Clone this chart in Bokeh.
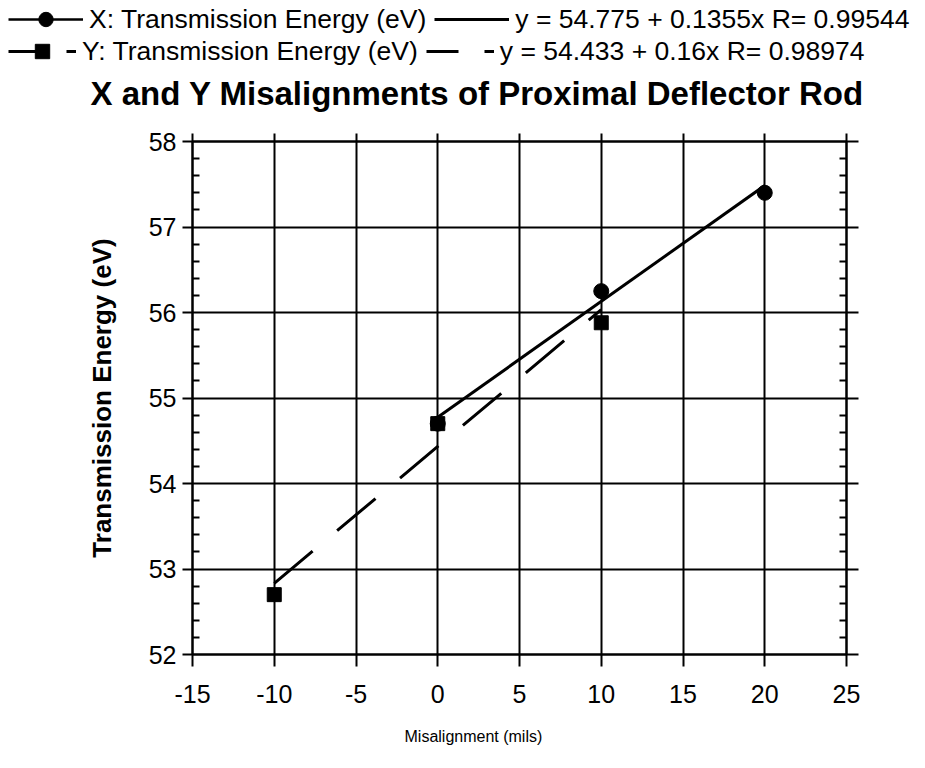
from bokeh.plotting import figure
from bokeh.models import (Legend, LegendItem, Title, LinearAxis, FixedTicker, Range1d, Label)
from bokeh.embed import file_html
from bokeh.resources import INLINE

# ---------------- data ----------------
x_mis = [0, 10, 20]                    # X misalignment (mils)
x_energy = [54.7, 56.25, 57.4]         # X: Transmission Energy (eV)
y_mis = [-10, 0, 10]                   # Y misalignment (mils)
y_energy = [52.7, 54.7, 55.88]         # Y: Transmission Energy (eV)
x_fit_coef = [54.775, 0.1355]          # intercept, slope
y_fit_coef = [54.433, 0.16]
x_fit_span = [0, 20]
y_fit_span = [-10, 10]
x_ticks = [-15, -10, -5, 0, 5, 10, 15, 20, 25]
y_ticks = [52, 53, 54, 55, 56, 57, 58]
x_series_label = "X: Transmission Energy (eV)"
y_series_label = "Y: Transmission Energy (eV)"
x_fit_label = "y = 54.775 + 0.1355x R= 0.99544"
y_fit_label = "y = 54.433 + 0.16x R= 0.98974"
title_text = "X and Y Misalignments of Proximal Deflector Rod"
x_axis_title = "Misalignment (mils)"
y_axis_title = "Transmission Energy (eV)"

FONT = "Liberation Sans"
W = 925
HEAD_H = 118
MAIN_H = 646
y_minor = [t + k * 0.2 for t in y_ticks[:-1] for k in range(1, 5)]
x_fit_y = [x_fit_coef[0] + x_fit_coef[1] * v for v in x_fit_span]
y_fit_y = [y_fit_coef[0] + y_fit_coef[1] * v for v in y_fit_span]

# ---------------- header: legend + title ----------------
# the header's ranges do not contain the data, so its renderers only feed the legend
h = figure(width=W, height=HEAD_H, x_range=Range1d(0, 1), y_range=Range1d(0, 1),
           x_axis_type=None, y_axis_type=None, output_backend="svg",
           toolbar_location=None, min_border=0)
h.outline_line_color = None
h.background_fill_color = "white"
h.border_fill_color = "white"

lg_x_line = h.line(x_mis, x_energy, line_color="black", line_width=2.5)
lg_x_pt = h.scatter(x_mis, x_energy, marker="circle", size=15, color="black")
lg_x_fit = h.line(x_fit_span, x_fit_y, line_color="black", line_width=3)
lg_y_line = h.line(y_mis, y_energy, line_color="black", line_width=3, line_dash="32 26")
lg_y_pt = h.scatter(y_mis, y_energy, marker="square", size=14, color="black")
lg_y_fit = h.line(y_fit_span, y_fit_y, line_color="black", line_width=3, line_dash="32 26")


def make_legend(items, gw, loc):
    return Legend(items=items, orientation="horizontal", location=loc,
                  glyph_width=gw, glyph_height=36, label_standoff=6, spacing=8,
                  padding=0, margin=0, border_line_color=None, background_fill_alpha=0,
                  label_text_font=FONT, label_text_font_size="26.5px",
                  label_text_color="black")


leg1 = make_legend([LegendItem(label=x_series_label, renderers=[lg_x_line, lg_x_pt]),
                    LegendItem(label=x_fit_label, renderers=[lg_x_fit])], 75, (8, 81))
leg2 = make_legend([LegendItem(label=y_series_label, renderers=[lg_y_line, lg_y_pt]),
                    LegendItem(label=y_fit_label, renderers=[lg_y_fit])], 68, (8, 49))
h.add_layout(leg1)
h.add_layout(leg2)

h.add_layout(Label(x=90, y=25, x_units="screen", y_units="screen", text=title_text,
                   text_font=FONT, text_font_size="33px", text_font_style="bold",
                   text_color="black", text_baseline="alphabetic", text_align="left"))

# ---------------- main plot ----------------
p = figure(width=W, height=MAIN_H, x_range=Range1d(-15, 25), y_range=Range1d(52, 58),
           output_backend="svg", toolbar_location=None, title=None,
           min_border_left=192, min_border_right=W - 846, min_border_top=23,
           min_border_bottom=MAIN_H - 545)
p.outline_line_color = "black"
p.outline_line_width = 2
p.background_fill_color = "white"
p.border_fill_color = "white"

p.xgrid.ticker = FixedTicker(ticks=x_ticks)
p.ygrid.ticker = FixedTicker(ticks=y_ticks)
for g in (p.xgrid, p.ygrid):
    g.grid_line_color = "black"
    g.grid_line_width = 2
    g.grid_line_alpha = 1.0


def style_axis(ax, tick_out, minor_in, labels, standoff=6):
    ax.axis_line_color = "black"
    ax.axis_line_width = 2
    ax.major_tick_line_color = "black"
    ax.major_tick_line_width = 2
    ax.major_tick_out = tick_out
    ax.major_tick_in = 0
    ax.minor_tick_line_width = 2
    ax.minor_tick_in = minor_in
    ax.minor_tick_out = 0
    ax.minor_tick_line_color = "black" if minor_in else None
    ax.major_label_text_font = FONT
    if labels:
        ax.major_label_text_font_size = "25px"
        ax.major_label_text_color = "black"
        ax.major_label_standoff = standoff
    else:
        ax.major_label_text_font_size = "1px"
        ax.major_label_text_color = None
        ax.major_label_standoff = 0


xb = p.xaxis[0]
xb.ticker = FixedTicker(ticks=x_ticks)
style_axis(xb, 12, 0, True, standoff=18)
xb.major_label_overrides = {t: str(t) for t in x_ticks}

yl = p.yaxis[0]
yl.ticker = FixedTicker(ticks=y_ticks, minor_ticks=y_minor)
style_axis(yl, 10, 7, True, standoff=6)
yl.major_label_overrides = {t: str(t) for t in y_ticks}
yl.axis_label = y_axis_title
yl.axis_label_text_font = FONT
yl.axis_label_text_font_style = "bold"
yl.axis_label_text_font_size = "26px"
yl.axis_label_text_color = "black"
yl.axis_label_standoff = 29

xt = LinearAxis(ticker=FixedTicker(ticks=x_ticks))
style_axis(xt, 8, 0, False)
p.add_layout(xt, "above")

yr = LinearAxis(ticker=FixedTicker(ticks=y_ticks, minor_ticks=y_minor))
style_axis(yr, 12, 7, False)
p.add_layout(yr, "right")

# fit lines from the legend equations
p.line(x_fit_span, x_fit_y, line_color="black", line_width=3)
p.line(y_fit_span, y_fit_y, line_color="black", line_width=3, line_dash="50 32")

p.scatter(x_mis, x_energy, marker="circle", size=15, color="black")
p.scatter(y_mis, y_energy, marker="square", size=14, color="black")

xl = Title(text=x_axis_title, text_font=FONT, text_font_size="16px", text_font_style="normal",
           text_color="black", align="left", offset=212, standoff=40)
p.add_layout(xl, "below")

open("out.html", "w").write(file_html([h, p], INLINE))
